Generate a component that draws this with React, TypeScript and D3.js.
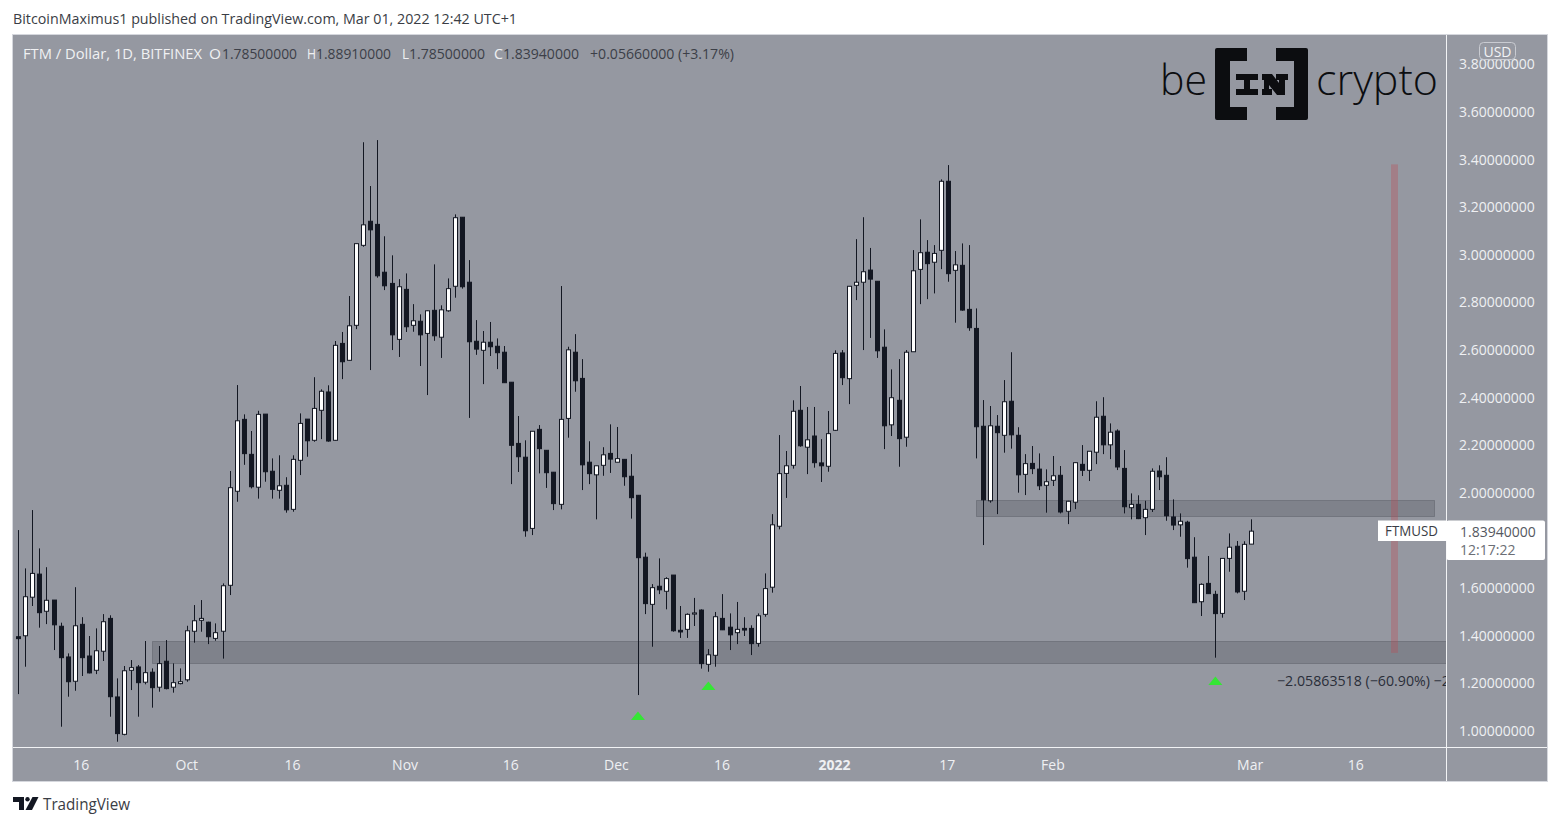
import { useEffect, useRef } from "react";
import * as d3 from "d3";

const WIDTH = 1561;
const HEIGHT = 826;

// daily FTM/USD candles, first one is 7 Sep 2021
const firstDay = new Date(Date.UTC(2021, 8, 7));

const opens = [
  1.396, 1.4, 1.562, 1.659, 1.503, 1.55, 1.44, 1.311, 1.209, 1.448,
  1.315, 1.255, 1.335, 1.473, 1.143, 0.986, 1.255, 1.269, 1.205, 1.247,
  1.184, 1.293, 1.184, 1.199, 1.215, 1.419, 1.465, 1.457, 1.389, 1.419,
  1.612, 2.007, 2.309, 2.162, 2.024, 2.331, 2.091, 2.011, 2.032, 1.931,
  2.137, 2.31, 2.221, 2.347, 2.424, 2.221, 2.628, 2.557, 2.704, 3.04,
  3.141, 3.128, 2.927, 2.88, 2.645, 2.855, 2.704, 2.721, 2.67, 2.767,
  2.654, 2.765, 2.868, 3.158, 2.885, 2.637, 2.599, 2.633, 2.616, 2.591,
  2.465, 2.208, 2.15, 1.851, 2.267, 2.179, 2.087, 1.952, 2.313, 2.591,
  2.481, 2.129, 2.076, 2.116, 2.166, 2.129, 2.141, 2.07, 1.99, 1.73,
  1.532, 1.608, 1.587, 1.655, 1.423, 1.427, 1.491, 1.508, 1.28, 1.318,
  1.473, 1.436, 1.413, 1.431, 1.431, 1.368, 1.49, 1.604, 1.86, 2.082,
  2.116, 2.347, 2.192, 2.239, 2.126, 2.112, 2.263, 2.588, 2.48, 2.872,
  2.885, 2.936, 2.889, 2.612, 2.286, 2.389, 2.234, 2.593, 2.939, 3.011,
  2.969, 3.019, 3.309, 2.935, 2.956, 2.771, 2.691, 2.28, 1.967, 2.28,
  2.242, 2.385, 2.242, 2.078, 2.124, 2.1, 2.032, 2.053, 2.074, 1.923,
  1.961, 2.12, 2.095, 2.171, 2.322, 2.202, 2.26, 2.103, 1.938, 1.952,
  1.896, 1.931, 2.092, 2.074, 1.899, 1.866, 1.877, 1.73, 1.543, 1.62,
  1.574, 1.494, 1.725, 1.776, 1.587, 1.785,
];

const closes = [
  1.388, 1.564, 1.662, 1.497, 1.549, 1.446, 1.308, 1.207, 1.442, 1.308,
  1.244, 1.337, 1.459, 1.144, 0.989, 1.253, 1.266, 1.203, 1.245, 1.182,
  1.283, 1.178, 1.203, 1.207, 1.421, 1.463, 1.473, 1.396, 1.413, 1.61,
  2.022, 2.303, 2.165, 2.026, 2.33, 2.089, 2.015, 2.03, 1.929, 2.141,
  2.292, 2.219, 2.355, 2.427, 2.218, 2.62, 2.551, 2.702, 3.047, 3.126,
  3.105, 2.912, 2.87, 2.664, 2.866, 2.698, 2.723, 2.664, 2.765, 2.66,
  2.769, 2.858, 3.156, 2.866, 2.635, 2.604, 2.633, 2.614, 2.589, 2.463,
  2.2, 2.152, 1.841, 2.259, 2.186, 2.085, 1.955, 2.309, 2.601, 2.471,
  2.118, 2.081, 2.114, 2.16, 2.142, 2.144, 2.068, 1.98, 1.728, 1.535,
  1.602, 1.593, 1.64, 1.421, 1.416, 1.49, 1.496, 1.283, 1.32, 1.48,
  1.425, 1.404, 1.427, 1.424, 1.367, 1.484, 1.598, 1.866, 2.081, 2.114,
  2.343, 2.198, 2.223, 2.127, 2.114, 2.249, 2.586, 2.484, 2.868, 2.885,
  2.929, 2.898, 2.597, 2.282, 2.4, 2.228, 2.591, 2.933, 3.009, 2.963,
  3.006, 3.309, 2.921, 2.958, 2.768, 2.694, 2.278, 1.971, 2.282, 2.253,
  2.383, 2.244, 2.076, 2.123, 2.102, 2.03, 2.047, 2.072, 1.92, 1.965,
  2.127, 2.095, 2.175, 2.318, 2.202, 2.255, 2.109, 1.942, 1.952, 1.892,
  1.931, 2.091, 2.068, 1.904, 1.865, 1.881, 1.724, 1.539, 1.616, 1.577,
  1.493, 1.725, 1.772, 1.584, 1.784, 1.8394,
];

const highs = [
  1.844, 1.683, 1.928, 1.767, 1.688, 1.55, 1.455, 1.326, 1.604, 1.478,
  1.399, 1.431, 1.491, 1.486, 1.221, 1.273, 1.298, 1.277, 1.378, 1.263,
  1.357, 1.382, 1.284, 1.263, 1.442, 1.529, 1.55, 1.459, 1.452, 1.62,
  2.092, 2.453, 2.33, 2.26, 2.345, 2.331, 2.145, 2.158, 2.066, 2.158,
  2.334, 2.31, 2.486, 2.435, 2.452, 2.638, 2.676, 2.827, 3.048, 3.473,
  3.289, 3.482, 3.078, 2.998, 2.898, 2.922, 2.793, 2.75, 2.767, 2.96,
  2.788, 2.901, 3.17, 3.158, 2.978, 2.726, 2.68, 2.718, 2.649, 2.617,
  2.465, 2.323, 2.221, 2.26, 2.285, 2.18, 2.088, 2.869, 2.614, 2.667,
  2.562, 2.217, 2.114, 2.192, 2.288, 2.277, 2.142, 2.163, 1.991, 1.749,
  1.617, 1.725, 1.646, 1.655, 1.525, 1.494, 1.559, 1.511, 1.344, 1.5,
  1.575, 1.494, 1.542, 1.478, 1.444, 1.494, 1.662, 1.911, 2.243, 2.176,
  2.389, 2.449, 2.361, 2.361, 2.226, 2.344, 2.599, 2.6, 2.869, 3.066,
  3.158, 3.029, 2.889, 2.687, 2.519, 2.562, 2.6, 3.02, 3.149, 3.062,
  3.041, 3.317, 3.377, 3.016, 3.048, 3.041, 2.775, 2.39, 2.365, 2.327,
  2.474, 2.591, 2.276, 2.163, 2.197, 2.166, 2.099, 2.155, 2.113, 1.967,
  2.129, 2.201, 2.176, 2.385, 2.402, 2.292, 2.267, 2.18, 1.998, 1.99,
  1.967, 2.103, 2.116, 2.15, 1.973, 1.914, 1.883, 1.814, 1.62, 1.735,
  1.589, 1.725, 1.83, 1.798, 1.797, 1.8891,
];

const lows = [
  1.155, 1.27, 1.525, 1.434, 1.449, 1.34, 1.018, 1.144, 1.169, 1.231,
  1.242, 1.239, 1.294, 1.06, 0.955, 0.982, 1.172, 1.06, 1.196, 1.098,
  1.165, 1.175, 1.161, 1.196, 1.207, 1.371, 1.417, 1.365, 1.379, 1.304,
  1.571, 1.963, 2.118, 2.019, 1.976, 2.047, 1.976, 1.976, 1.917, 1.921,
  2.075, 2.152, 2.215, 2.226, 2.215, 2.219, 2.478, 2.555, 2.688, 3.034,
  2.516, 2.904, 2.852, 2.6, 2.571, 2.676, 2.677, 2.533, 2.411, 2.639,
  2.567, 2.761, 2.82, 2.858, 2.315, 2.58, 2.457, 2.575, 2.52, 2.463,
  2.037, 2.088, 1.816, 1.823, 2.082, 2.021, 1.928, 1.931, 2.232, 2.425,
  2.012, 2.037, 1.889, 2.072, 2.084, 2.129, 2.03, 1.892, 1.151, 1.491,
  1.354, 1.575, 1.511, 1.417, 1.391, 1.391, 1.441, 1.262, 1.249, 1.27,
  1.424, 1.34, 1.365, 1.399, 1.319, 1.354, 1.48, 1.581, 1.847, 1.979,
  2.102, 2.194, 2.079, 2.106, 2.046, 2.089, 2.26, 2.453, 2.373, 2.81,
  2.6, 2.651, 2.567, 2.184, 2.239, 2.11, 2.194, 2.593, 2.793, 2.814,
  2.838, 2.94, 2.887, 2.715, 2.765, 2.681, 2.145, 1.781, 1.959, 1.911,
  2.169, 2.186, 2.001, 1.991, 2.079, 2.012, 1.917, 2.029, 1.914, 1.869,
  1.932, 2.071, 2.05, 2.121, 2.163, 2.142, 2.096, 1.914, 1.889, 1.89,
  1.823, 1.92, 2.012, 1.883, 1.844, 1.816, 1.686, 1.539, 1.483, 1.577,
  1.308, 1.476, 1.669, 1.578, 1.55, 1.785,
];

// 1.8 sits under the last price label in the original, so it's left out
const priceTicks = [3.8, 3.6, 3.4, 3.2, 3.0, 2.8, 2.6, 2.4, 2.2, 2.0, 1.6, 1.4, 1.2, 1.0];
const timeTicks = [
  { date: [2021, 8, 16], label: "16" },
  { date: [2021, 9, 1], label: "Oct" },
  { date: [2021, 9, 16], label: "16" },
  { date: [2021, 10, 1], label: "Nov" },
  { date: [2021, 10, 16], label: "16" },
  { date: [2021, 11, 1], label: "Dec" },
  { date: [2021, 11, 16], label: "16" },
  { date: [2022, 0, 1], label: "2022" },
  { date: [2022, 0, 17], label: "17" },
  { date: [2022, 1, 1], label: "Feb" },
  { date: [2022, 2, 1], label: "Mar" },
  { date: [2022, 2, 16], label: "16" },
];

// support zones as [low price, high price]
const lowerZone = [1.287, 1.378];
const upperZone = [1.905, 1.972];
const measureTop = 3.38;
const measureBottom = 1.328;

// days with a green arrow and the price the arrow sits at
const arrowDays = [88, 98, 170];
const arrowPrices = [1.063, 1.189, 1.21];

const PANE = { left: 13, right: 1446, top: 35, bottom: 747, axisBottom: 781, outerRight: 1547 };
const BG = "#9598a1";
const DARK = "#131722";
const FONT = "'Open Sans', sans-serif";

export default function App() {
  const svgRef = useRef<SVGSVGElement>(null);

  useEffect(() => {
    if (!svgRef.current) return;
    const svg = d3.select(svgRef.current);
    svg.selectAll("*").remove();

    const dayAt = (i: number) => d3.utcDay.offset(firstDay, i);

    const x = d3
      .scaleUtc()
      .domain([firstDay, dayAt(175)])
      .range([18.3, 1250.6]);
    const y = d3.scaleLinear().domain([1, 3.6]).range([731, 112]);

    // ── Frame ────────────────────────────────────────────────────────────────

    svg.append("rect").attr("width", WIDTH).attr("height", HEIGHT).attr("fill", "#fff");
    svg.append("rect")
      .attr("x", PANE.left - 0.5).attr("y", PANE.top - 0.5)
      .attr("width", PANE.outerRight - PANE.left + 1)
      .attr("height", PANE.axisBottom - PANE.top + 1)
      .attr("fill", BG).attr("stroke", "#d5d7dd");

    svg.append("defs").append("clipPath").attr("id", "pane")
      .append("rect")
      .attr("x", PANE.left).attr("y", PANE.top)
      .attr("width", PANE.right - PANE.left)
      .attr("height", PANE.bottom - PANE.top);

    const pane = svg.append("g").attr("clip-path", "url(#pane)");

    // ── Zones and the measure bar ────────────────────────────────────────────

    const zone = (x0: number, x1: number, range: number[]) =>
      pane.append("rect")
        .attr("x", x0 + 0.5).attr("y", Math.round(y(range[1])) + 0.5)
        .attr("width", x1 - x0)
        .attr("height", Math.round(y(range[0])) - Math.round(y(range[1])))
        .attr("fill", "rgba(60,62,72,0.24)")
        .attr("stroke", "rgba(60,62,72,0.3)");

    zone(152, PANE.right + 2, lowerZone);
    zone(976, 1434, upperZone);

    pane.append("rect")
      .attr("x", 1391).attr("y", y(measureTop))
      .attr("width", 7).attr("height", y(measureBottom) - y(measureTop))
      .attr("fill", "rgba(190,70,80,0.32)");

    // ── Candles ──────────────────────────────────────────────────────────────

    const candles = pane.append("g");
    opens.forEach((open, i) => {
      const cx = Math.round(x(dayAt(i)));
      const up = closes[i] >= open;
      const top = y(Math.max(open, closes[i]));
      const bottom = y(Math.min(open, closes[i]));
      candles.append("line")
        .attr("x1", cx + 0.5).attr("x2", cx + 0.5)
        .attr("y1", y(highs[i])).attr("y2", y(lows[i]))
        .attr("stroke", DARK).attr("stroke-width", 1);
      candles.append("rect")
        .attr("x", cx - 1.5).attr("y", top)
        .attr("width", 4).attr("height", Math.max(bottom - top, 1))
        .attr("fill", up ? "#fff" : DARK)
        .attr("stroke", DARK).attr("stroke-width", 1);
    });

    // ── Green arrows ─────────────────────────────────────────────────────────

    arrowDays.forEach((day, i) => {
      const ax = x(dayAt(day));
      const ay = y(arrowPrices[i]);
      pane.append("path")
        .attr("d", d3.line()([[ax - 7, ay + 4], [ax, ay - 4.5], [ax + 7, ay + 4]]) + "Z")
        .attr("fill", "#35e635");
    });

    pane.append("text")
      .attr("x", 1277).attr("y", 686)
      .attr("font-family", FONT).attr("font-size", 14.2).attr("fill", "#2a2e39")
      .text("−2.05863518 (−60.90%) −2");

    // ── Price axis ───────────────────────────────────────────────────────────

    svg.append("line")
      .attr("x1", PANE.right + 0.5).attr("x2", PANE.right + 0.5)
      .attr("y1", PANE.top).attr("y2", PANE.axisBottom)
      .attr("stroke", "#f2f3f5");

    const priceAxis = svg.append("g")
      .attr("transform", `translate(${PANE.right},0)`)
      .call(d3.axisRight(y).tickValues(priceTicks).tickSize(0).tickPadding(13)
        .tickFormat((v) => Number(v).toFixed(8)));
    priceAxis.select(".domain").remove();
    priceAxis.selectAll(".tick text")
      .attr("font-family", FONT).attr("font-size", 14).attr("fill", "#eff0f3");

    svg.append("rect")
      .attr("x", 1479.5).attr("y", 42.5).attr("width", 36).attr("height", 17).attr("rx", 4)
      .attr("fill", "rgba(149,152,161,0.85)").attr("stroke", "#c9cbd1");
    svg.append("text")
      .attr("x", 1497.5).attr("y", 57).attr("text-anchor", "middle")
      .attr("font-family", FONT).attr("font-size", 14).attr("fill", "#f2f3f5")
      .text("USD");

    // last price labels
    svg.append("rect").attr("x", 1378).attr("y", 520.5).attr("width", 69).attr("height", 20.5).attr("fill", "#fff");
    svg.append("rect").attr("x", 1446.5).attr("y", 520.5).attr("width", 98.5).attr("height", 39.5).attr("rx", 2).attr("fill", "#fff");
    svg.append("text")
      .attr("x", 1385).attr("y", 536).attr("textLength", 53).attr("lengthAdjust", "spacingAndGlyphs")
      .attr("font-family", FONT).attr("font-size", 14).attr("fill", "#3a3d45")
      .text("FTMUSD");
    svg.append("text")
      .attr("x", 1460).attr("y", 537)
      .attr("font-family", FONT).attr("font-size", 14).attr("fill", "#55585f")
      .text(closes[closes.length - 1].toFixed(8));
    svg.append("text")
      .attr("x", 1460).attr("y", 555)
      .attr("font-family", FONT).attr("font-size", 14).attr("fill", "#6b6e75")
      .text("12:17:22");

    // ── Time axis ────────────────────────────────────────────────────────────

    svg.append("line")
      .attr("x1", PANE.left).attr("x2", PANE.outerRight)
      .attr("y1", PANE.bottom + 0.5).attr("y2", PANE.bottom + 0.5)
      .attr("stroke", "#f2f3f5");

    timeTicks.forEach((t) => {
      const d = new Date(Date.UTC(t.date[0], t.date[1], t.date[2]));
      svg.append("text")
        .attr("x", x(d) - 0.5).attr("y", 769.5).attr("text-anchor", "middle")
        .attr("font-family", FONT).attr("font-size", 14)
        .attr("font-weight", t.label === "2022" ? 700 : 400)
        .attr("fill", "#eff0f3")
        .text(t.label);
    });

    // ── Header texts ─────────────────────────────────────────────────────────

    const fitted = (tx: number, ty: number, len: number, size: number, fill: string, str: string) =>
      svg.append("text")
        .attr("x", tx).attr("y", ty)
        .attr("textLength", len).attr("lengthAdjust", "spacingAndGlyphs")
        .attr("font-family", FONT).attr("font-size", size).attr("fill", fill)
        .text(str);

    fitted(13, 24, 504, 15, "#3a3d45", "BitcoinMaximus1 published on TradingView.com, Mar 01, 2022 12:42 UTC+1");

    const light = "#f0f1f3";
    const value = "#3c3f48";
    fitted(23, 59, 179, 14, light, "FTM / Dollar, 1D, BITFINEX");
    fitted(209, 59, 12, 14, light, "O");
    fitted(222, 59, 75, 14, value, "1.78500000");
    fitted(307, 59, 9, 14, light, "H");
    fitted(316, 59, 75, 14, value, "1.88910000");
    fitted(402, 59, 7, 14, light, "L");
    fitted(409, 59, 76, 14, value, "1.78500000");
    fitted(494, 59, 9, 14, light, "C");
    fitted(503, 59, 76, 14, value, "1.83940000");
    fitted(590, 59, 144, 14, value, "+0.05660000 (+3.17%)");

    // ── beincrypto logo ──────────────────────────────────────────────────────

    const logoColor = "#0c0d10";
    const logo = svg.append("g");
    logo.append("text")
      .attr("x", 1160).attr("y", 95).attr("textLength", 47).attr("lengthAdjust", "spacingAndGlyphs")
      .attr("font-family", FONT).attr("font-weight", 300).attr("font-size", 43).attr("fill", logoColor)
      .text("be");
    logo.append("text")
      .attr("x", 1316).attr("y", 95).attr("textLength", 122).attr("lengthAdjust", "spacingAndGlyphs")
      .attr("font-family", FONT).attr("font-weight", 300).attr("font-size", 43).attr("fill", logoColor)
      .text("crypto");
    logo.append("path")
      .attr("d", "M1217 48H1247V61H1230V107H1247V120H1217Q1215 120 1215 118V50Q1215 48 1217 48Z")
      .attr("fill", logoColor);
    logo.append("path")
      .attr("d", "M1306 48H1276V61H1294V107H1276V120H1306Q1308 120 1308 118V50Q1308 48 1306 48Z")
      .attr("fill", logoColor);
    // slab I and heavy N of the logo
    logo.append("path")
      .attr("d", "M1236 74H1258V80H1250V89H1258V95H1236V89H1244V80H1236Z")
      .attr("fill", logoColor);
    logo.append("path")
      .attr("d", "M1262 74H1272L1279 83V80H1276V74H1288V80H1285V95H1277L1269 85V89H1272V95H1262V89H1264V80H1262Z")
      .attr("fill", logoColor);

    // ── TradingView footer ───────────────────────────────────────────────────

    const tv = svg.append("g").attr("fill", "#131722");
    tv.append("path").attr("d", "M13 797H24V810H19V802H13Z");
    tv.append("circle").attr("cx", 27.5).attr("cy", 799.2).attr("r", 2.2);
    tv.append("path").attr("d", "M32.5 797H38.5L32 810H25.5Z");
    svg.append("text")
      .attr("x", 43).attr("y", 810).attr("textLength", 87).attr("lengthAdjust", "spacingAndGlyphs")
      .attr("font-family", FONT).attr("font-size", 15.5).attr("fill", "#3a3d45")
      .text("TradingView");
  }, []);

  return (
    <svg
      ref={svgRef}
      width={WIDTH}
      height={HEIGHT}
      style={{ position: "fixed", left: 0, top: 0, display: "block" }}
    />
  );
}
